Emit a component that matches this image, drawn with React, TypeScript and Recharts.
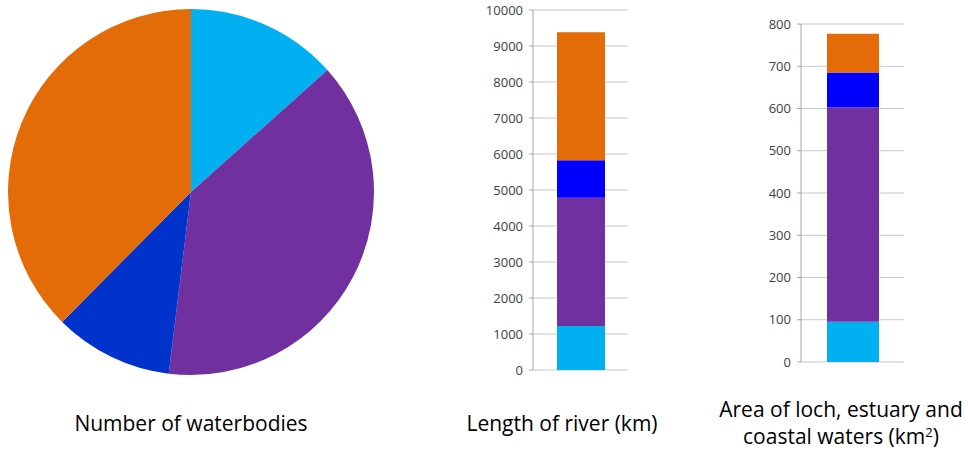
import React from 'react';
import { PieChart, Pie, Cell, BarChart, Bar, XAxis, YAxis, CartesianGrid } from 'recharts';

// categories, in stacking / clockwise order
const CATEGORIES = ['cat1', 'cat2', 'cat3', 'cat4'];
const PIE_COLORS = ['#00B0F0', '#7030A0', '#0033CC', '#E36C09'];
const BAR_COLORS = ['#00B0F0', '#7030A0', '#0000FF', '#E36C09'];

// Number of waterbodies (pie)
const WATERBODY_COUNTS = [134, 386, 105, 376];
// Length of river (km)
const RIVER_LENGTHS = [1220, 3565, 1040, 3555];
// Area of loch, estuary and coastal waters (km2)
const AREAS = [95, 508, 82, 92];

const RIVER_TICKS = [0, 1000, 2000, 3000, 4000, 5000, 6000, 7000, 8000, 9000, 10000];
const AREA_TICKS = [0, 100, 200, 300, 400, 500, 600, 700, 800];

const FONT = '"Open Sans", sans-serif';
const GRID = '#c8c8c8';
const AXIS = '#a6a6a6';
const TICK = { fontSize: 13, fill: '#404040', fontFamily: FONT };

const pieData = CATEGORIES.map((name, i) => ({ name, value: WATERBODY_COUNTS[i] }));
const toRow = (vals: number[]) => {
  const row: Record<string, number | string> = { name: 'total' };
  CATEGORIES.forEach((c, i) => (row[c] = vals[i]));
  return [row];
};
const riverData = toRow(RIVER_LENGTHS);
const areaData = toRow(AREAS);

const labelStyle: React.CSSProperties = {
  position: 'absolute',
  fontFamily: FONT,
  fontSize: 21,
  color: '#000',
  textAlign: 'center',
  lineHeight: '27px',
  whiteSpace: 'nowrap',
};

export default function App() {
  return (
    <div style={{ position: 'absolute', left: 0, top: 0, width: 968, height: 452, background: '#fff', overflow: 'hidden' }}>
      {/* pie */}
      <div style={{ position: 'absolute', left: 0, top: 0 }}>
        <PieChart width={384} height={384} margin={{ top: 0, right: 0, bottom: 0, left: 0 }}>
          <Pie
            data={pieData}
            dataKey="value"
            cx={191}
            cy={192}
            outerRadius={183}
            startAngle={90}
            endAngle={-270}
            stroke="none"
            isAnimationActive={false}
          >
            {pieData.map((d, i) => (
              <Cell key={d.name} fill={PIE_COLORS[i]} />
            ))}
          </Pie>
        </PieChart>
      </div>

      {/* river length */}
      <div style={{ position: 'absolute', left: 483, top: 0 }}>
        <BarChart width={145} height={380} data={riverData} margin={{ top: 10, right: 0, bottom: 10, left: 0 }}>
          <CartesianGrid vertical={false} stroke={GRID} />
          <XAxis dataKey="name" hide />
          <YAxis
            width={50}
            domain={[0, 10000]}
            ticks={RIVER_TICKS}
            interval={0}
            tick={TICK}
            tickSize={4}
            tickMargin={6}
            stroke={AXIS}
            allowDataOverflow
          />
          {CATEGORIES.map((c, i) => (
            <Bar key={c} dataKey={c} stackId="a" fill={BAR_COLORS[i]} barSize={48} isAnimationActive={false} />
          ))}
        </BarChart>
      </div>

      {/* area */}
      <div style={{ position: 'absolute', left: 751, top: 0 }}>
        <BarChart width={153} height={372} data={areaData} margin={{ top: 24, right: 0, bottom: 10, left: 0 }}>
          <CartesianGrid vertical={false} stroke={GRID} />
          <XAxis dataKey="name" hide />
          <YAxis
            width={50}
            domain={[0, 800]}
            ticks={AREA_TICKS}
            interval={0}
            tick={TICK}
            tickSize={4}
            tickMargin={6}
            stroke={AXIS}
            allowDataOverflow
          />
          {CATEGORIES.map((c, i) => (
            <Bar key={c} dataKey={c} stackId="a" fill={BAR_COLORS[i]} barSize={52} isAnimationActive={false} />
          ))}
        </BarChart>
      </div>

      {/* captions */}
      <div style={{ ...labelStyle, left: 41, width: 300, top: 410 }}>Number of waterbodies</div>
      <div style={{ ...labelStyle, left: 412, width: 300, top: 410 }}>Length of river (km)</div>
      <div style={{ ...labelStyle, left: 691, width: 300, top: 396 }}>
        <div>Area of loch, estuary and</div>
        <div>
          coastal waters (km
          <span style={{ fontSize: 13, lineHeight: '13px', position: 'relative', top: -7 }}>2</span>)
        </div>
      </div>
    </div>
  );
}
